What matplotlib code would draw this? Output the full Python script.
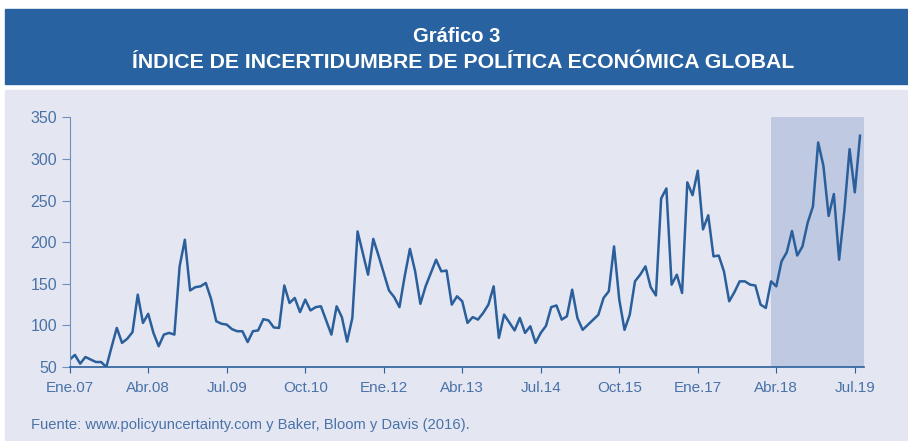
import numpy as np
import matplotlib.pyplot as plt
from matplotlib.patches import Rectangle

# Índice mensual, Ene.07 - Ago.19
gepu = [59, 64.5, 54, 62, 59, 56, 56, 50, 74, 97,
        79, 84, 92, 137, 103, 114, 91, 75, 89, 91,
        89, 171, 203, 142, 146, 147, 151, 132, 105, 102,
        101, 95.5, 93, 93, 80, 93, 94, 107.5, 106, 97.5,
        97, 148, 127, 133, 116, 131, 118, 122, 123, 106,
        89, 123, 110, 80.6, 109, 213, 187, 161, 204, 184,
        163, 142, 134, 122, 159, 192, 165, 126, 147, 163,
        179, 165, 166, 125, 135, 129, 103, 110, 107, 115,
        125, 147, 85, 113, 103.5, 94, 109, 91, 99, 79,
        91, 99.5, 122, 124, 107, 111, 143, 109, 94.7, 100.7,
        106.8, 112.8, 133, 141, 195, 131, 94.7, 112.8, 153, 161,
        171, 146, 136, 252.6, 264.7, 149, 161, 139, 272, 256.6,
        286, 215.5, 232.4, 183, 184, 165, 129, 140, 153, 153,
        149, 148, 125, 121, 153, 147, 177, 188, 213.5, 184,
        195, 223.6, 243, 320, 292, 231.6, 258, 179, 237.7, 312,
        260, 328]
tick_labels = ['Ene.07', 'Abr.08', 'Jul.09', 'Oct.10', 'Ene.12', 'Abr.13',
               'Jul.14', 'Oct.15', 'Ene.17', 'Abr.18', 'Jul.19']
yticks = [50, 100, 150, 200, 250, 300, 350]
shade_start = 134  # Mar/Abr.18 en adelante

band_blue = '#2862a0'
panel = '#e4e7f2'
line_blue = '#2a5f9b'
text_blue = '#4a72a8'

plt.rcParams['font.family'] = ['Liberation Sans', 'DejaVu Sans']

fig = plt.figure(figsize=(9.08, 4.41), dpi=100)
W, H = 908, 441

# banda del título y panel de fondo
fig.patches.append(Rectangle((5 / W, 1 - 84 / H), 903 / W, 75 / H,
                             transform=fig.transFigure, color=band_blue, zorder=-2))
fig.patches.append(Rectangle((5 / W, 0), 903 / W, 1 - 90 / H,
                             transform=fig.transFigure, color=panel, zorder=-2))
fig.text(456.5 / W, 1 - 37 / H, 'Gráfico 3', color='white', fontsize=14.5,
         fontweight='bold', ha='center', va='center')
fig.text(463 / W, 1 - 63 / H, 'ÍNDICE DE INCERTIDUMBRE DE POLÍTICA ECONÓMICA GLOBAL',
         color='white', fontsize=15.3, fontweight='bold', ha='center', va='center')

ax = fig.add_axes([69.7 / W, 1 - 367 / H, 794 / W, 249.5 / H], zorder=2)
ax.set_facecolor('none')

x = np.arange(len(gepu))
ax.axvspan(shade_start, 151.7, color='#bfc9e1', lw=0, zorder=0)
ax.plot(x, gepu, color=line_blue, lw=1.8, zorder=2)

ax.set_xlim(0, 151.7)
ax.set_ylim(50, 350)
ax.set_xticks(np.arange(0, 151, 15))
ax.set_xticklabels(tick_labels)
ax.set_yticks(yticks)

ax.spines.right.set_visible(False)
ax.spines.top.set_visible(False)
ax.spines.left.set_color('#6f8fbf')
ax.spines.bottom.set_color(line_blue)
ax.spines.bottom.set_linewidth(1.2)
ax.tick_params(axis='x', colors=line_blue, labelcolor=text_blue, labelsize=11,
               length=4, pad=6)
ax.tick_params(axis='y', colors='#6f8fbf', labelcolor=text_blue, labelsize=11.5,
               length=6, pad=3)

fig.text(31 / W, 1 - 425 / H,
         'Fuente: www.policyuncertainty.com y Baker, Bloom y Davis (2016).',
         color=text_blue, fontsize=10.6, ha='left', va='center')

fig.savefig('out.png', dpi=100)
